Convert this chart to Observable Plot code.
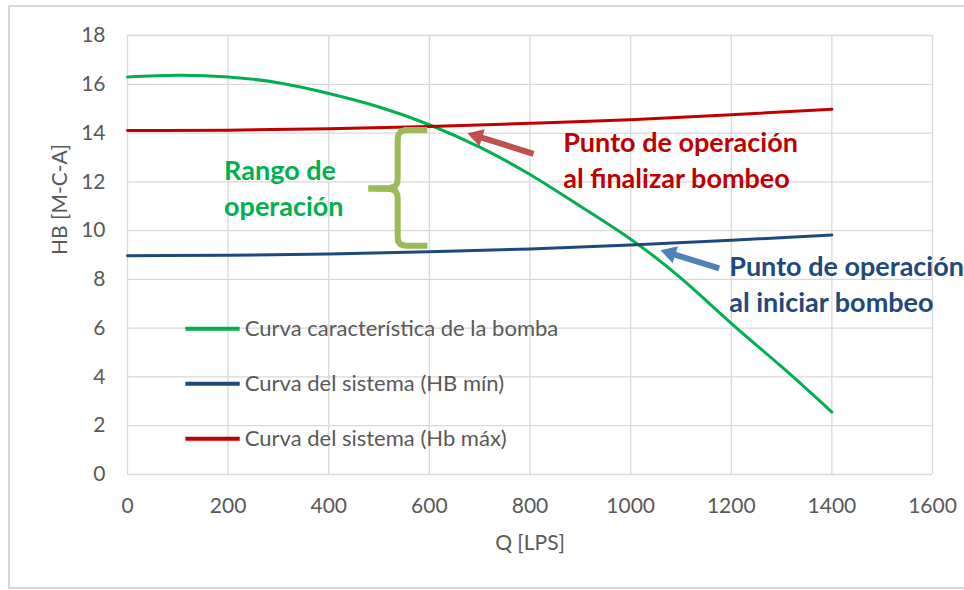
<!DOCTYPE html>
<html><head><meta charset="utf-8">
<script src="https://cdn.jsdelivr.net/npm/d3@7"></script>
<script src="https://cdn.jsdelivr.net/npm/@observablehq/plot@0.6"></script>
<style>
body{margin:0;background:#fff;overflow:hidden}
#wrap{position:relative;width:964px;height:590px;overflow:hidden}
#border{position:absolute;left:8px;top:5px;width:990px;height:580px;border:2px solid #D9D9D9;pointer-events:none}
</style></head><body><div id="wrap"><div id="chart"></div><div id="border"></div></div>
<script>
// ---- data ----
const qBomba = [0,100,200,300,400,500,600,700,800,900,1000,1100,1200,1300,1400];
const hBomba = [16.3,16.37,16.3,16.06,15.62,15.07,14.34,13.42,12.3,11.0,9.65,8.05,6.2,4.42,2.56];
const qSistema = [0,200,400,600,800,1000,1200,1400];
const hMin = [8.97,8.99,9.04,9.13,9.25,9.41,9.6,9.82];
const hMax = [14.1,14.12,14.18,14.27,14.4,14.55,14.75,14.98];
const xTicks = [0,200,400,600,800,1000,1200,1400,1600];
const yTicks = [0,2,4,6,8,10,12,14,16,18];
const seriesNames = ["Curva característica de la bomba","Curva del sistema (HB mín)","Curva del sistema (Hb máx)"];
const seriesColors = ["#00B050","#1F497D","#C00000"];
const xLabel = "Q [LPS]";
const yLabel = "HB [M-C-A]";
const noteRango = "Rango de\noperación";
const noteFinal = "Punto de operación\nal finalizar bombeo";
const noteInicio = "Punto de operación\nal iniciar bombeo";

// ---- layout (data coordinates for annotations) ----
const W = 964, H = 590, mL = 127, mR = 32, mT = 35, mB = 116;
const legendRowsY = [5.98, 3.72, 1.47];
const legendLineX = [115, 223];
const legendTextX = 233;
const braceUpper = [[596,14.13],[553,14.13],[543,14.06],[538,13.92],[537,13.7],[537,12.15],[536,11.95],[532,11.82],[522,11.75],[479,11.73]];
const braceLower = [[479,11.73],[522,11.71],[532,11.64],[536,11.5],[537,11.3],[537,9.75],[538,9.55],[543,9.43],[553,9.38],[596,9.38]];
const arrowFinal = {tail:[807,13.15], tip:[676,13.99], color:"#C0504D"};
const arrowInicio = {tail:[1176,8.45], tip:[1060,9.19], color:"#4F81BD"};

const bomba = qBomba.map((q,i)=>({q, h:hBomba[i]}));
const sysMin = qSistema.map((q,i)=>({q, h:hMin[i]}));
const sysMax = qSistema.map((q,i)=>({q, h:hMax[i]}));
const legend = seriesNames.map((name,i)=>({name, color:seriesColors[i], y:legendRowsY[i]}));

const xs = d3.scaleLinear([0,1600],[mL,W-mR]);
const ys = d3.scaleLinear([0,18],[H-mB,mT]);
function arrowParts(a){
  const px1=xs(a.tail[0]), py1=ys(a.tail[1]), px2=xs(a.tip[0]), py2=ys(a.tip[1]);
  const dx=px2-px1, dy=py2-py1, len=Math.hypot(dx,dy);
  const ux=dx/len, uy=dy/len, back=10;
  const cx=px2-ux*back, cy=py2-uy*back;
  return {
    shaft:[{x1:a.tail[0],y1:a.tail[1],x2:xs.invert(cx+ux*2),y2:ys.invert(cy+uy*2)}],
    head:[{x:xs.invert(cx),y:ys.invert(cy)}],
    angle:Math.atan2(dx,-dy)*180/Math.PI,
    color:a.color
  };
}
const aF = arrowParts(arrowFinal), aI = arrowParts(arrowInicio);

const font = "Lato, 'Open Sans', sans-serif";
const gray = "#595959";

const chart = Plot.plot({
  width: W, height: H,
  marginLeft: mL, marginRight: mR, marginTop: mT, marginBottom: mB,
  style: {fontFamily: font, background: "transparent", color: gray},
  x: {domain: [0,1600]},
  y: {domain: [0,18]},
  marks: [
    Plot.gridX(xTicks, {stroke: "#D9D9D9", strokeOpacity: 1, strokeWidth: 1.3}),
    Plot.gridY(yTicks, {stroke: "#D9D9D9", strokeOpacity: 1, strokeWidth: 1.3}),
    Plot.axisX({ticks: xTicks, tickFormat: d => String(d), tickSize: 0, tickPadding: 24, fontSize: 21, fill: gray, label: null}),
    Plot.axisY({ticks: yTicks, tickFormat: d => String(d), tickSize: 0, tickPadding: 22, fontSize: 21, fill: gray, label: null}),
    Plot.text([xLabel], {frameAnchor: "bottom", dy: 69, fontSize: 21, fill: gray, lineAnchor: "middle", fontFamily: font}),
    Plot.text([yLabel], {frameAnchor: "left", dx: -67, rotate: -90, fontSize: 21, fill: gray, lineAnchor: "middle", fontFamily: font}),
    Plot.line(bomba, {x: "q", y: "h", stroke: seriesColors[0], strokeWidth: 3, curve: "natural"}),
    Plot.line(sysMin, {x: "q", y: "h", stroke: seriesColors[1], strokeWidth: 3, curve: "natural"}),
    Plot.line(sysMax, {x: "q", y: "h", stroke: seriesColors[2], strokeWidth: 3, curve: "natural"}),
    Plot.link(legend, {x1: () => legendLineX[0], x2: () => legendLineX[1], y1: "y", y2: "y", stroke: "color", strokeWidth: 4}),
    Plot.text(legend, {x: () => legendTextX, y: "y", text: "name", textAnchor: "start", fontSize: 22, fill: gray, fontFamily: font}),
    Plot.line(braceUpper, {x: d=>d[0], y: d=>d[1], stroke: "#9BBB59", strokeWidth: 6, strokeLinejoin: "round", strokeLinecap: "butt"}),
    Plot.line(braceLower, {x: d=>d[0], y: d=>d[1], stroke: "#9BBB59", strokeWidth: 6, strokeLinejoin: "round", strokeLinecap: "butt"}),
    Plot.link(aF.shaft, {x1:"x1", y1:"y1", x2:"x2", y2:"y2", stroke: aF.color, strokeWidth: 6}),
    Plot.dot(aF.head, {x:"x", y:"y", symbol:"triangle", r: 6.6, fill: aF.color, stroke: "none", rotate: aF.angle}),
    Plot.link(aI.shaft, {x1:"x1", y1:"y1", x2:"x2", y2:"y2", stroke: aI.color, strokeWidth: 6}),
    Plot.dot(aI.head, {x:"x", y:"y", symbol:"triangle", r: 6.6, fill: aI.color, stroke: "none", rotate: aI.angle}),
    Plot.text([noteRango], {x: () => 192, y: () => 11.80, textAnchor: "start", lineAnchor: "middle", lineHeight: 1.333, fontSize: 27, fontWeight: "bold", fill: "#00B050", fontFamily: font}),
    Plot.text([noteFinal], {x: () => 866, y: () => 12.96, textAnchor: "start", lineAnchor: "middle", lineHeight: 1.315, fontSize: 27, fontWeight: "bold", fill: "#C00000", fontFamily: font}),
    Plot.text([noteInicio], {x: () => 1196, y: () => 7.86, textAnchor: "start", lineAnchor: "middle", lineHeight: 1.32, fontSize: 27, fontWeight: "bold", fill: "#1F497D", fontFamily: font})
  ]
});
document.getElementById("chart").appendChild(chart);
</script>
</body></html>
